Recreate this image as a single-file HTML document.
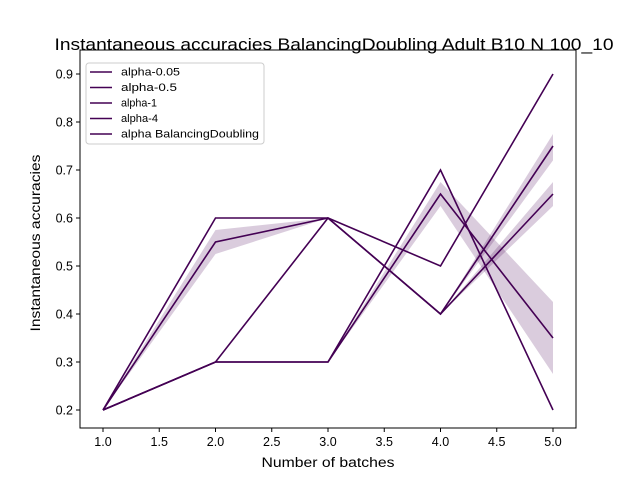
<!DOCTYPE html>
<html><head><meta charset="utf-8"><style>
body{margin:0;background:#fff;font-family:"Liberation Sans",sans-serif}
text{font-family:"Liberation Sans",sans-serif;fill:#000}
</style></head><body>
<svg id="c" width="640" height="480" xmlns="http://www.w3.org/2000/svg">
<rect width="640" height="480" fill="#fff"/>
<g id="bands"></g><g id="lines"></g><g id="axes"></g>
<text x="334" y="50" text-anchor="middle" font-size="16.5" textLength="559" lengthAdjust="spacingAndGlyphs">Instantaneous accuracies BalancingDoubling Adult B10 N 100_10</text>
<text x="328" y="467" text-anchor="middle" font-size="13.5" textLength="133" lengthAdjust="spacingAndGlyphs">Number of batches</text>
<text transform="translate(40,243) rotate(-90)" text-anchor="middle" font-size="13.5" textLength="177" lengthAdjust="spacingAndGlyphs">Instantaneous accuracies</text>
<rect x="80" y="50" width="496" height="378" fill="none" stroke="#000" stroke-width="1"/>
<g id="legend"></g>
</svg>
<script>
const xs=[1,2,3,4,5];
const names=["alpha-0.05","alpha-0.5","alpha-1","alpha-4","alpha BalancingDoubling"];
const s0=[0.2,0.6,0.6,0.4,0.75];
const s1=[0.2,0.55,0.6,0.4,0.65];
const s2=[0.2,0.3,0.6,0.5,0.9];
const s3=[0.2,0.3,0.3,0.7,0.2];
const s4=[0.2,0.3,0.3,0.65,0.35];
const lo0=[0.2,0.6,0.6,0.4,0.72];
const hi0=[0.2,0.6,0.6,0.4,0.775];
const lo1=[0.2,0.525,0.6,0.4,0.625];
const hi1=[0.2,0.575,0.6,0.4,0.675];
const lo4=[0.2,0.3,0.3,0.625,0.275];
const hi4=[0.2,0.3,0.3,0.675,0.425];
const xTicks=[1,1.5,2,2.5,3,3.5,4,4.5,5];
const yTicks=[0.2,0.3,0.4,0.5,0.6,0.7,0.8,0.9];
const X=v=>103+(v-1)*112.5;
const Y=v=>410-(v-0.2)*480;
const NS="http://www.w3.org/2000/svg";
const col="#440154";
function mk(t,p,a){const e=document.createElementNS(NS,t);for(const k in a)e.setAttribute(k,a[k]);p.appendChild(e);return e;}
const B=document.getElementById('bands'),L=document.getElementById('lines'),A=document.getElementById('axes'),G=document.getElementById('legend');
[[lo0,hi0],[lo1,hi1],[lo4,hi4]].forEach((b,i)=>{
 const pts=xs.map((x,j)=>X(x)+','+Y(b[1][j])).concat(xs.slice().reverse().map((x,j)=>X(x)+','+Y(b[0][4-j])));
 const p=mk('polygon',B,{points:pts.join(' '),fill:col,'fill-opacity':0.2});
 
 
});
[s0,s1,s2,s3,s4].forEach((s,i)=>{
 const p=mk('polyline',L,{points:xs.map((x,j)=>X(x)+','+Y(s[j])).join(' '),fill:'none',stroke:col,'stroke-width':1.6});
 
 
});
xTicks.forEach(t=>{
 mk('line',A,{x1:X(t),x2:X(t),y1:428,y2:432,stroke:'#000'});
 const e=mk('text',A,{x:X(t),y:446,'text-anchor':'middle','font-size':12.5});e.textContent=t.toFixed(1);
 
 
});
yTicks.forEach(t=>{
 mk('line',A,{x1:76,x2:80,y1:Y(t),y2:Y(t),stroke:'#000'});
 const e=mk('text',A,{x:73,y:Y(t)+4.5,'text-anchor':'end','font-size':12.5});e.textContent=t.toFixed(1);
 
 
});
const lb=mk('rect',G,{x:86,y:63,width:178,height:81,rx:3,fill:'#fff',stroke:'#ccc'});


const lens=[59,56,36,37,138];
names.forEach((n,i)=>{
 const y=72+i*15.5;
 mk('line',G,{x1:90,x2:112,y1:y,y2:y,stroke:col,'stroke-width':1.6});
 const e=mk('text',G,{x:121,y:y+3.5,'font-size':11,textLength:lens[i],lengthAdjust:'spacingAndGlyphs'});e.textContent=n;
 
 
});
</script>
</body></html>
